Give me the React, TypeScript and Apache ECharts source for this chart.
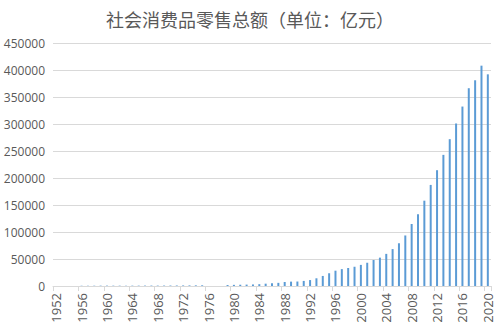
import React, { useEffect, useRef } from "react";
import * as echarts from "echarts";

const years: string[] = [];
for (let y = 1952; y <= 2020; y++) years.push(String(y));

// 社会消费品零售总额（亿元）; null = no bar shown in the reference
const values: (number | null)[] = [
  null, null, null, null, // 1952-1955
  461.0, 474.2, 548.0, 638.0, 696.9, 607.7, 604.0, 604.5, 638.2, 670.3, // 1956-1965
  732.8, 770.5, 737.3, 801.5, 858.0, 929.2, 1023.3, 1106.7, 1163.6, 1271.1, // 1966-1975
  null, null, null, // 1976-1978
  1800.0, 2140.0, 2350.0, 2570.0, 2849.4, 3376.4, 4305.0, 4950.0, 5820.0, 7440.0, // 1979-1988
  8101.4, 8300.1, 9415.6, 10993.7, 14270.4, 18622.9, 23613.8, 28360.2, 31252.9, 33378.1, // 1989-1998
  35647.9, 39105.7, 43055.4, 48135.9, 52516.3, 59501.0, 68352.6, 79145.2, 93571.6, 114830.1, // 1999-2008
  133048.2, 158008.0, 187205.8, 214432.7, 242842.8, 271896.1, 300930.8, 332316.3, 366261.6, 380986.9, // 2009-2018
  408017.2, 391980.6, // 2019-2020
];

const titleText = "社会消费品零售总额（单位：亿元）";

export default function App() {
  const ref = useRef<HTMLDivElement>(null);
  useEffect(() => {
    if (!ref.current) return;
    const chart = echarts.init(ref.current, undefined, { renderer: "svg" });
    chart.setOption({
      animation: false,
      backgroundColor: "#ffffff",
      title: {
        text: titleText,
        left: 245,
        top: 5,
        textAlign: "center",
        textStyle: {
          fontFamily: "Noto Sans CJK SC",
          fontSize: 18,
          fontWeight: "normal",
          color: "#595959",
        },
      },
      grid: { left: 53, right: 9, top: 43, bottom: 49, containLabel: false },
      xAxis: {
        type: "category",
        data: years,
        boundaryGap: true,
        axisLine: { show: true, lineStyle: { color: "#D9D9D9", width: 1 } },
        axisTick: { show: true, interval: 3, length: 5, lineStyle: { color: "#D9D9D9" } },
        axisLabel: {
          interval: 3,
          rotate: 90,
          margin: 7,
          fontSize: 13,
          color: "#595959",
          fontFamily: "Open Sans, Noto Sans, sans-serif",
        },
      },
      yAxis: {
        type: "value",
        min: 0,
        max: 450000,
        interval: 50000,
        axisLine: { show: false },
        axisTick: { show: false },
        splitLine: { lineStyle: { color: "#D9D9D9", width: 1 } },
        axisLabel: {
          margin: 8,
          fontSize: 12,
          color: "#595959",
          fontFamily: "Open Sans, Noto Sans, sans-serif",
          formatter: (v: number) => String(v),
        },
      },
      series: [
        {
          type: "bar",
          data: values,
          barWidth: 2,
          itemStyle: { color: "#5B9BD5" },
        },
      ],
    });
    return () => chart.dispose();
  }, []);
  return <div ref={ref} style={{ width: 500, height: 335, position: "absolute", left: 0, top: 0 }} />;
}
